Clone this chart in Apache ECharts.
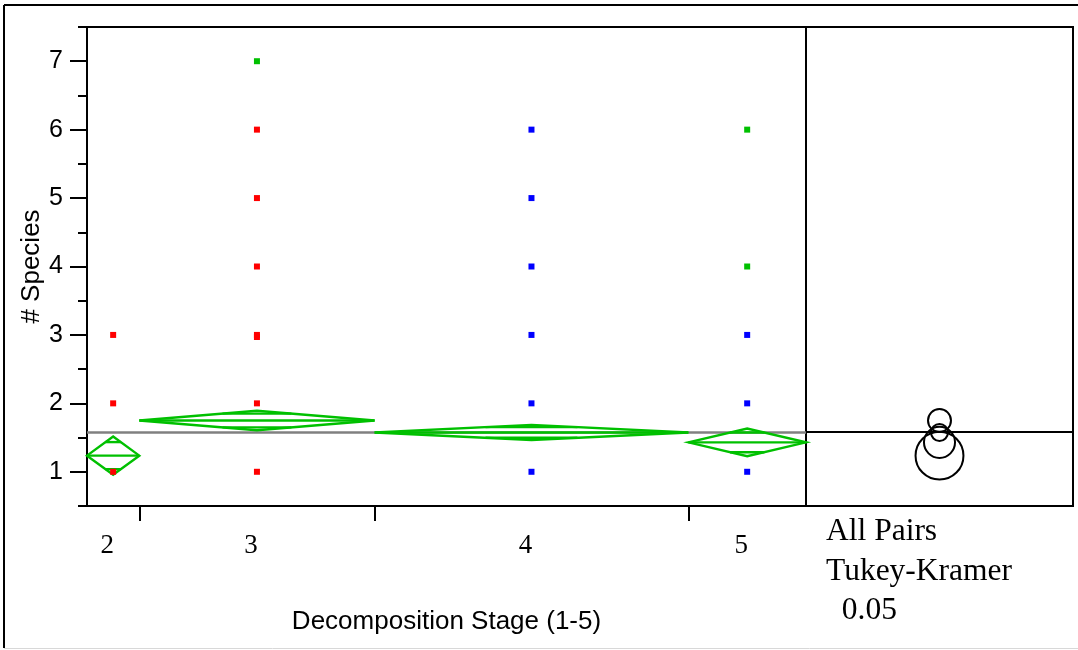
<!DOCTYPE html>
<html>
<head>
<meta charset="utf-8">
<script src="https://cdn.jsdelivr.net/npm/echarts@6/dist/echarts.min.js"></script>
<style>
  html, body { margin: 0; padding: 0; background: #fff; }
  #chart { width: 1078px; height: 650px; }
</style>
</head>
<body>
<div id="chart"></div>
<script>
// groups on the x axis (width of each group ~ its sample size)
var stageLabels = ['2', '3', '4', '5'];
var groupWeights = [2, 9, 12, 4.5];

// means diamonds: group mean and 95% CI half-height
var groupMeans = [1.236, 1.75, 1.575, 1.43];
var ciHalf = [0.28, 0.142, 0.11, 0.203];
var grandMean = 1.58;

// Tukey-Kramer comparison circles (radius in y units)
var circleRadius = [0.35, 0.168, 0.124, 0.227];

// observations [group index, # species]
var redPoints = [[0, 1], [0, 2], [0, 3], [1, 1], [1, 2], [1, 2.97], [1, 3], [1, 4], [1, 5], [1, 6]];
var greenPoints = [[1, 7], [3, 4], [3, 6]];
var bluePoints = [[2, 1], [2, 2], [2, 3], [2, 4], [2, 5], [2, 6], [3, 1], [3, 2], [3, 3]];

var cumStart = [];
var total = 0;
groupWeights.forEach(function (w) { cumStart.push(total); total += w; });
var centers = groupWeights.map(function (w, i) { return cumStart[i] + w / 2; });
var boundaries = cumStart.slice(1);

function toXY(arr) {
  return arr.map(function (p) { return [centers[p[0]], p[1]]; });
}

var GREEN = '#00c000';
var SANS = 'Liberation Sans';
var SERIF = 'Liberation Serif';

var myChart = echarts.init(document.getElementById('chart'));

function renderDiamond(params, api) {
  var i = api.value(0);
  var m = api.value(1);
  var h = api.value(2);
  var x0 = api.coord([cumStart[i], m])[0];
  var x1 = api.coord([cumStart[i] + groupWeights[i], m])[0];
  var xc = (x0 + x1) / 2;
  var yM = api.coord([0, m])[1];
  var yT = api.coord([0, m + h])[1];
  var yB = api.coord([0, m - h])[1];
  var o = h / Math.SQRT2;
  var yOT = api.coord([0, m + o])[1];
  var yOB = api.coord([0, m - o])[1];
  var ow = (x1 - x0) / 2 * (1 - 1 / Math.SQRT2);
  var st = { stroke: GREEN, lineWidth: 2.4, fill: null };
  return {
    type: 'group',
    children: [
      { type: 'polygon', shape: { points: [[x0, yM], [xc, yT], [x1, yM], [xc, yB]] }, style: st },
      { type: 'line', shape: { x1: x0, y1: yM, x2: x1, y2: yM }, style: st },
      { type: 'line', shape: { x1: xc - ow, y1: yOT, x2: xc + ow, y2: yOT }, style: st },
      { type: 'line', shape: { x1: xc - ow, y1: yOB, x2: xc + ow, y2: yOB }, style: st }
    ]
  };
}

function renderCircle(params, api) {
  var c = api.coord([api.value(0), api.value(1)]);
  var r = api.size([0, api.value(2)])[1];
  return {
    type: 'circle',
    shape: { cx: c[0], cy: c[1], r: r },
    style: { stroke: '#000', lineWidth: 2, fill: null }
  };
}

option = {
  animation: false,
  backgroundColor: '#fff',
  grid: [
    { left: 87, top: 27, width: 719, height: 479, show: true, borderColor: '#000', borderWidth: 2 },
    { left: 806, top: 27, width: 267, height: 479, show: true, borderColor: '#000', borderWidth: 2 }
  ],
  xAxis: [
    {
      type: 'value', gridIndex: 0, min: 0, max: total,
      splitLine: { show: false },
      axisLine: { lineStyle: { color: '#000', width: 2 } },
      axisTick: { customValues: boundaries, length: 15, lineStyle: { color: '#000', width: 2 } },
      axisLabel: {
        customValues: centers,
        formatter: function (v) {
          for (var i = 0; i < centers.length; i++) {
            if (Math.abs(centers[i] - v) < 1e-6) return stageLabels[i];
          }
          return '';
        },
        fontFamily: SERIF, fontSize: 27, color: '#000', margin: 26,
        padding: [0, 12, 0, 0]
      },
      name: 'Decomposition Stage (1-5)',
      nameLocation: 'middle', nameGap: 103, nameMoveOverlap: false,
      nameTextStyle: { fontFamily: SANS, fontSize: 26, color: '#000' }
    },
    { type: 'value', gridIndex: 1, min: 0, max: 1, show: false }
  ],
  yAxis: [
    {
      type: 'value', gridIndex: 0, min: 0.5, max: 7.5, interval: 0.5,
      splitLine: { show: false },
      axisLine: { lineStyle: { color: '#000', width: 2 } },
      axisTick: { length: 9, lineStyle: { color: '#000', width: 2 } },
      axisLabel: {
        formatter: function (v) { return Number.isInteger(v) ? String(v) : ''; },
        fontFamily: SANS, fontSize: 25, color: '#000', margin: 24
      },
      name: '# Species',
      nameLocation: 'middle', nameGap: 42, nameMoveOverlap: false,
      nameTextStyle: { fontFamily: SANS, fontSize: 26, color: '#000' }
    },
    {
      type: 'value', gridIndex: 0, min: 0.5, max: 7.5, position: 'left',
      splitLine: { show: false },
      axisLine: { show: false },
      axisTick: { customValues: [1, 2, 3, 4, 5, 6, 7], length: 17, lineStyle: { color: '#000', width: 2 } },
      axisLabel: { show: false }
    },
    { type: 'value', gridIndex: 1, min: 0.5, max: 7.5, show: false }
  ],
  series: [
    {
      type: 'custom', xAxisIndex: 0, yAxisIndex: 0, z: 3,
      renderItem: renderDiamond,
      data: groupMeans.map(function (m, i) { return [i, m, ciHalf[i]]; }),
      markLine: {
        silent: true, symbol: 'none', z: 2,
        label: { show: false },
        lineStyle: { color: '#808080', width: 2.5, type: 'solid', opacity: 1 },
        data: [{ yAxis: grandMean }]
      }
    },
    {
      type: 'scatter', xAxisIndex: 0, yAxisIndex: 0, z: 5,
      symbol: 'rect', symbolSize: 6, itemStyle: { color: '#ff0000', opacity: 1 },
      data: toXY(redPoints)
    },
    {
      type: 'scatter', xAxisIndex: 0, yAxisIndex: 0, z: 5,
      symbol: 'rect', symbolSize: 6, itemStyle: { color: GREEN, opacity: 1 },
      data: toXY(greenPoints)
    },
    {
      type: 'scatter', xAxisIndex: 0, yAxisIndex: 0, z: 5,
      symbol: 'rect', symbolSize: 6, itemStyle: { color: '#0000ff', opacity: 1 },
      data: toXY(bluePoints)
    },
    {
      type: 'custom', xAxisIndex: 1, yAxisIndex: 2, z: 3,
      renderItem: renderCircle,
      data: groupMeans.map(function (m, i) { return [0.5, m, circleRadius[i]]; }),
      markLine: {
        silent: true, symbol: 'none',
        label: { show: false },
        lineStyle: { color: '#000', width: 2, type: 'solid', opacity: 1 },
        data: [{ yAxis: grandMean }]
      }
    }
  ],
  graphic: [
    { type: 'line', shape: { x1: 4, y1: 5, x2: 1078, y2: 5 }, style: { stroke: '#000', lineWidth: 2 } },
    { type: 'line', shape: { x1: 4, y1: 5, x2: 4, y2: 648 }, style: { stroke: '#000', lineWidth: 2 } },
    { type: 'line', shape: { x1: 4, y1: 648.5, x2: 1078, y2: 648.5 }, style: { stroke: '#d8d8d8', lineWidth: 1 } },
    { type: 'text', left: 826, top: 516, style: { text: 'All Pairs', font: '31.5px "Liberation Serif"', fill: '#000' } },
    { type: 'text', left: 826, top: 556, style: { text: 'Tukey-Kramer', font: '31.5px "Liberation Serif"', fill: '#000' } },
    { type: 'text', left: 826, top: 595, style: { text: '  0.05', font: '31.5px "Liberation Serif"', fill: '#000' } }
  ]
};
myChart.setOption(option);
</script>
</body>
</html>
